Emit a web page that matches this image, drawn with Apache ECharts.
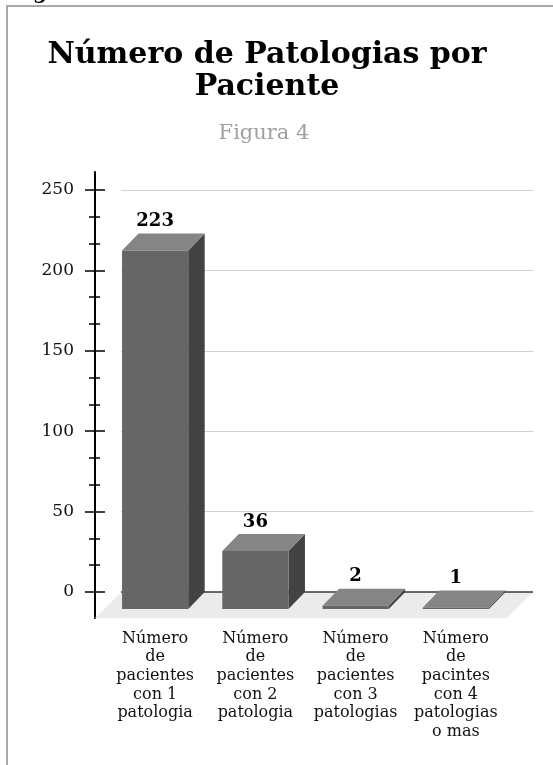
<!DOCTYPE html>
<html><head><meta charset="utf-8">
<script src="https://cdn.jsdelivr.net/npm/echarts@6/dist/echarts.min.js"></script>
<style>html,body{margin:0;padding:0;background:#fff}#c{width:553px;height:765px}</style>
</head><body><div id="c"></div>
<script>
// ---- data ----
const titleText = 'Número de Patologias por\nPaciente';
const subtitleText = 'Figura 4';
const headerFragment = 'g';
const categories = [
  'Número\nde\npacientes\ncon 1\npatologia',
  'Número\nde\npacientes\ncon 2\npatologia',
  'Número\nde\npacientes\ncon 3\npatologias',
  'Número\nde\npacintes\ncon 4\npatologias\no mas'
];
const values = [223, 36, 2, 1];
const yMin = 0;
const yMax = 250;
const yInterval = 50;

// ---- style ----
const FONT = 'Georgia, "DejaVu Serif", serif';
const BAR_DEPTH = [16.5, 17];
const FLOOR_DEPTH = [26, 26];

function renderBar(params, api) {
  const v = api.value(1);
  const top = api.coord([api.value(0), v]);
  const base = api.coord([api.value(0), 0]);
  const bw = api.size([1, 0])[0] * 0.66;
  const dx = BAR_DEPTH[0], dy = BAR_DEPTH[1];
  const x0 = top[0] - bw / 2, x1 = top[0] + bw / 2;
  const yt = top[1] + dy, yb = base[1] + dy;
  return {
    type: 'group',
    children: [
      { type: 'polygon', shape: { points: [[x1, yt], [x1 + dx, yt - dy], [x1 + dx, base[1]], [x1, yb]] }, style: { fill: '#434343' } },
      { type: 'polygon', shape: { points: [[x0, yt], [x1, yt], [x1 + dx, yt - dy], [x0 + dx, yt - dy]] }, style: { fill: '#858585' } },
      { type: 'rect', shape: { x: x0, y: yt, width: bw, height: yb - yt }, style: { fill: '#666666' } },
      { type: 'text', x: top[0], y: top[1] - 12, style: { text: String(v), font: 'bold 18px ' + FONT, fill: '#000', textAlign: 'center', textVerticalAlign: 'middle', align: 'center', verticalAlign: 'middle' } }
    ]
  };
}

function renderFloor(params, api) {
  const a = api.coord([0, 0]);
  const b = api.coord([1, 0]);
  const dx = FLOOR_DEPTH[0], dy = FLOOR_DEPTH[1];
  return {
    type: 'group',
    children: [
      { type: 'polygon', shape: { points: [[a[0], a[1]], [b[0], b[1]], [b[0] - dx, b[1] + dy], [a[0] - dx, a[1] + dy]] }, style: { fill: '#ebebeb' } },
      { type: 'line', shape: { x1: a[0], y1: a[1], x2: b[0], y2: b[1] }, style: { stroke: '#3a3a3a', lineWidth: 1.5 } }
    ]
  };
}

const chart = echarts.init(document.getElementById('c'), null, { renderer: 'canvas' });
chart.setOption({
  animation: false,
  backgroundColor: '#fff',
  title: [
    { text: titleText, left: 262, top: 34, textAlign: 'center',
      textStyle: { fontFamily: FONT, fontSize: 30, fontWeight: 'bold', lineHeight: 32, color: '#000' } },
    { text: subtitleText, left: 259, top: 118, textAlign: 'center',
      textStyle: { fontFamily: FONT, fontSize: 21, fontWeight: 'normal', lineHeight: 22, color: '#a0a0a0' } }
  ],
  graphic: [
    { type: 'rect', shape: { x: 7, y: 6, width: 580, height: 800 }, style: { fill: 'none', stroke: '#a8a8a8', lineWidth: 2 }, z: -1 },
    { type: 'text', x: 33, y: -16, style: { text: headerFragment, font: 'bold 20px ' + FONT, fill: '#000' } }
  ],
  grid: [
    { left: 121, right: 20, top: 190, bottom: 173 },
    { left: 105, right: 47, top: 190, bottom: 173 },
    { left: 95, right: 400, top: 172, bottom: 147 }
  ],
  xAxis: [
    { gridIndex: 0, type: 'value', min: 0, max: 1, show: false },
    { gridIndex: 1, type: 'category', data: categories,
      axisLine: { show: false }, axisTick: { show: false },
      axisLabel: { interval: 0, margin: 37, fontFamily: FONT, fontSize: 16, lineHeight: 18.7, color: '#111', align: 'center' } },
    { gridIndex: 2, type: 'value', show: false }
  ],
  yAxis: [
    { gridIndex: 0, type: 'value', position: 'left', offset: 26, min: yMin, max: yMax, interval: yInterval,
      axisLine: { show: false, onZero: false },
      axisTick: { show: true, inside: false, length: 10, lineStyle: { color: '#000', width: 1.5 } },
      minorTick: { show: true, splitNumber: 3, length: 6, lineStyle: { color: '#000', width: 1.5 } },
      axisLabel: { margin: 21, fontFamily: FONT, fontSize: 17, color: '#111' },
      splitLine: { show: true, lineStyle: { color: '#d0d0d0', width: 1.2 } } },
    { gridIndex: 0, type: 'value', position: 'left', offset: 26, min: yMin, max: yMax, interval: yInterval,
      axisLine: { show: false, onZero: false },
      axisTick: { show: true, inside: true, length: 10, lineStyle: { color: '#000', width: 1.5 } },
      minorTick: { show: true, splitNumber: 3, length: 5, lineStyle: { color: '#000', width: 1.5 } },
      axisLabel: { show: false }, splitLine: { show: false } },
    { gridIndex: 1, type: 'value', min: yMin, max: yMax, interval: yInterval, show: false },
    { gridIndex: 2, type: 'value', position: 'left', min: 0, max: 1,
      axisLine: { show: true, onZero: false, lineStyle: { color: '#000', width: 2 } },
      axisTick: { show: false }, axisLabel: { show: false }, splitLine: { show: false } }
  ],
  series: [
    { type: 'custom', xAxisIndex: 0, yAxisIndex: 0, renderItem: renderFloor, data: [[0, 0]], z: 1, silent: true },
    { type: 'custom', xAxisIndex: 1, yAxisIndex: 2, renderItem: renderBar,
      data: values.map((v, i) => [i, v]), encode: { x: 0, y: 1 }, z: 3, silent: true }
  ]
});
</script></body></html>
